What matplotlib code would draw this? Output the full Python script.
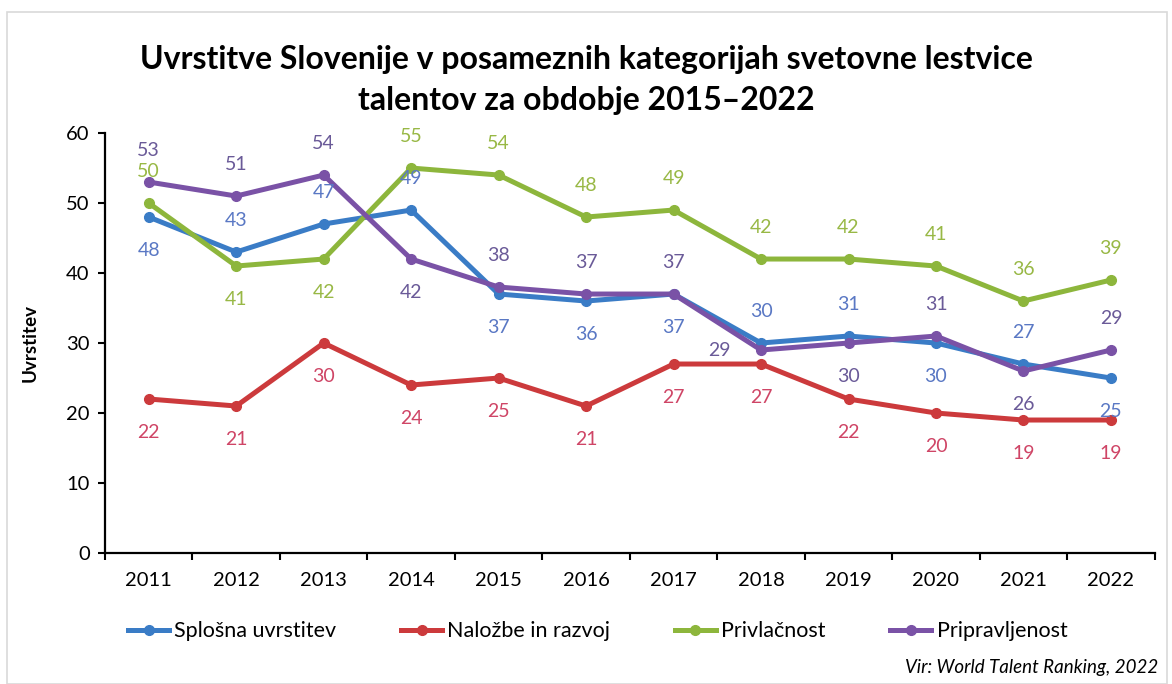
import matplotlib
matplotlib.use("Agg")
import matplotlib.pyplot as plt
from matplotlib.patches import Rectangle

plt.rcParams['font.family'] = ['Lato', 'DejaVu Sans']

# podatki
leta = ['2011', '2012', '2013', '2014', '2015', '2016',
        '2017', '2018', '2019', '2020', '2021', '2022']
splosna = [48, 43, 47, 49, 37, 36, 37, 30, 31, 30, 27, 25]
nalozbe = [22, 21, 30, 24, 25, 21, 27, 27, 22, 20, 19, 19]
privlacnost = [50, 41, 42, 55, 54, 48, 49, 42, 42, 41, 36, 39]
pripravljenost = [53, 51, 54, 42, 38, 37, 37, 29, 30, 31, 26, 29]

# kje stoji oznaka vrednosti: a = nad, b = pod, l = levo
poz_splosna = ['b', 'a', 'a', 'a', 'b', 'b', 'b', 'a', 'a', 'b', 'a', 'b']
poz_nalozbe = ['b'] * 12
poz_privlacnost = ['a', 'b', 'b', 'a', 'a', 'a', 'a', 'a', 'a', 'a', 'a', 'a']
poz_pripravljenost = ['a', 'a', 'a', 'b', 'a', 'a', 'a', 'l', 'b', 'a', 'b', 'a']

serije = [
    ('Splošna uvrstitev', splosna, poz_splosna, '#3a7cc6', '#5a78c4'),
    ('Naložbe in razvoj', nalozbe, poz_nalozbe, '#cc3a3c', '#cf4566'),
    ('Privlačnost', privlacnost, poz_privlacnost, '#8db63c', '#98b845'),
    ('Pripravljenost', pripravljenost, poz_pripravljenost, '#7a52a6', '#6a5a98'),
]

fig = plt.figure(figsize=(11.72, 6.84), dpi=100)
ax = fig.add_axes([0.0896, 0.1915, 0.8956, 0.614])

# siv okvir okoli grafa
fig.patches.append(Rectangle((0.006, 0.0), 0.99, 0.982, transform=fig.transFigure,
                             fill=False, edgecolor='#d9d9d9', linewidth=1.2))

x = list(range(len(leta)))
for ime, vred, poz, barva, barva_txt in serije:
    ax.plot(x, vred, color=barva, linewidth=3.6, marker='o', markersize=7,
            label=ime, solid_joinstyle='round')
    for xi, yi, p in zip(x, vred, poz):
        if p == 'a':
            off = (0, 23)
        elif p == 'b':
            off = (0, -24)
        else:
            off = (-30, 0)
        ax.annotate(str(yi), (xi, yi), xytext=off, textcoords='offset points',
                    ha='center', va='center', fontsize=14, color=barva_txt)

ax.set_xlim(-0.5, len(leta) - 0.5)
ax.set_ylim(0, 60)
ax.set_yticks(range(0, 61, 10))
ax.set_xticks(x)
ax.set_xticklabels(leta)
ax.set_xticks([i - 0.5 for i in range(len(leta) + 1)], minor=True)
ax.tick_params(axis='x', which='major', length=0, labelsize=14.5, pad=14)
ax.tick_params(axis='x', which='minor', length=5, width=1.5, direction='out')
ax.tick_params(axis='y', length=5, width=1.5, labelsize=14.5, pad=6)
for s in ['top', 'right']:
    ax.spines[s].set_visible(False)
for s in ['left', 'bottom']:
    ax.spines[s].set_linewidth(1.6)

ax.set_ylabel('Uvrstitev', fontsize=13.5, fontweight='bold', labelpad=20)

fig.text(0.5, 0.883, 'Uvrstitve Slovenije v posameznih kategorijah svetovne lestvice\ntalentov za obdobje 2015–2022',
         ha='center', va='center', fontsize=23, fontweight='bold', linespacing=1.5)

fig.legend(loc='center', bbox_to_anchor=(0.51, 0.077), ncol=4, frameon=False,
           fontsize=15.5, handlelength=1.9, columnspacing=3.0, handletextpad=0.25)

fig.text(0.988, 0.024, 'Vir: World Talent Ranking, 2022', ha='right', va='center',
         fontsize=13.5, style='italic')

fig.savefig('out.png', dpi=100)
